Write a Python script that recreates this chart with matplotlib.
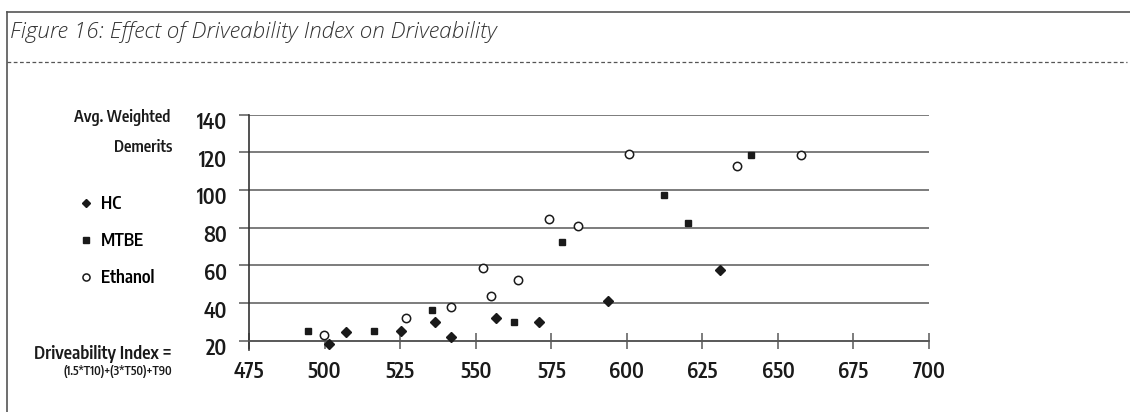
import matplotlib
matplotlib.use('Agg')
import matplotlib.pyplot as plt
from matplotlib import font_manager
from matplotlib.font_manager import FontProperties
from matplotlib.lines import Line2D
from matplotlib.transforms import ScaledTranslation

# 数据
hc_x = [501.4, 507.1, 525.4, 536.7, 541.7, 556.8, 571.0, 593.9, 630.9]
hc_y = [18.6, 24.6, 25.5, 30.1, 22.1, 32.0, 30.2, 41.2, 57.4]
mtbe_x = [494.5, 516.4, 535.6, 562.7, 578.7, 612.4, 620.3, 641.0]
mtbe_y = [25.3, 25.3, 36.2, 30.0, 72.2, 97.1, 82.3, 118.8]
eth_x = [499.8, 527.1, 541.7, 552.4, 555.2, 564.0, 574.1, 583.7, 600.8, 636.5, 657.8]
eth_y = [23.2, 32.4, 38.2, 58.8, 43.8, 52.3, 84.6, 80.7, 119.2, 112.6, 118.5]
x_ticks = [475, 500, 525, 550, 575, 600, 625, 650, 675, 700]
y_ticks = [20, 40, 60, 80, 100, 120, 140]
series_names = ['HC', 'MTBE', 'Ethanol']

W, H = 1130, 412

# 字体选择: 优先找窄体字体 (偏粗一点)
ttf = font_manager.fontManager.ttflist
names = {f.name for f in ttf}
narrow_faces = [f for f in ttf
                if f.style == 'normal'
                and ('Narrow' in f.name or 'Condensed' in f.name
                     or f.stretch in ('condensed', 'semi-condensed', 'extra-condensed'))]


def _wkey(f):
    try:
        w = int(f.weight)
    except (TypeError, ValueError):
        w = 400
    return (abs(w - 560), 'Sans' not in f.name)


narrow_faces.sort(key=_wkey)
if narrow_faces:
    fp_path = narrow_faces[0].fname
    base_size = 15
else:
    fp_path = font_manager.findfont(FontProperties(family='Roboto', weight=500))
    base_size = 12


def nfont(size):
    return FontProperties(fname=fp_path, size=size)


title_font = 'Open Sans' if 'Open Sans' in names else 'DejaVu Sans'


def fx(x):
    return x / W


def fy(y):
    return 1 - y / H


fig = plt.figure(figsize=(W / 100, H / 100), dpi=100)

# 外框和标题
border = '#555555'
fig.add_artist(Line2D([fx(7), fx(7)], [fy(12), 0], color=border, lw=1.2))
fig.add_artist(Line2D([fx(7), 1], [fy(12), fy(12)], color=border, lw=1.2))
fig.add_artist(Line2D([fx(7), fx(1127)], [fy(61.5), fy(61.5)], color=border,
                      lw=0.9, dashes=(3, 2)))
fig.text(fx(10), fy(38), 'Figure 16: Effect of Driveability Index on Driveability',
         family=title_font, style='italic', weight=300, fontsize=16.2, color='#333333',
         ha='left', va='baseline')

# 坐标轴
ax = fig.add_axes([fx(249), fy(350.4), fx(929) - fx(249), fy(114.5) - fy(350.4)])
ax.set_xlim(475, 700)
ax.set_ylim(15, 140)
ax.set_xticks(x_ticks)
ax.set_yticks(y_ticks)
ax.yaxis.grid(True, color='#666666', lw=1.2)
ax.set_axisbelow(True)
for s in ['top', 'right']:
    ax.spines[s].set_visible(False)
ax.spines['left'].set_color('#333333')
ax.spines['left'].set_linewidth(1.2)
ax.spines['bottom'].set_position(('data', 20))
ax.spines['bottom'].set_color('#555555')
ax.spines['bottom'].set_linewidth(1.2)
ax.tick_params(axis='x', direction='inout', length=11, width=1.2, color='#666666', pad=9)
ax.tick_params(axis='y', direction='out', length=7.2, width=1.2, color='#666666', pad=8.6)
shift = ScaledTranslation(0, -6 / 100, fig.dpi_scale_trans)
for lab in ax.get_xticklabels():
    lab.set_fontproperties(nfont(base_size))
    lab.set_color('#1a1a1a')
for lab in ax.get_yticklabels():
    lab.set_fontproperties(nfont(base_size))
    lab.set_color('#1a1a1a')
    lab.set_transform(lab.get_transform() + shift)

mk = dict(ls='none', clip_on=False, zorder=3)
ax.plot(hc_x, hc_y, marker='D', ms=5, color='#1a1a1a', label=series_names[0], **mk)
ax.plot(mtbe_x, mtbe_y, marker='s', ms=5, color='#1a1a1a', label=series_names[1], **mk)
ax.plot(eth_x, eth_y, marker='o', ms=6, mfc='white', mec='#1a1a1a', mew=1.1,
        label=series_names[2], **mk)

# 图例
fig.legend(*ax.get_legend_handles_labels(), loc='upper left',
           bbox_to_anchor=(fx(78), fy(195)), frameon=False, prop=nfont(base_size - 2.5),
           handlelength=0.9, handletextpad=0.4, labelspacing=1.1, markerscale=0.85,
           borderpad=0, borderaxespad=0)

# 轴标签
lbl = dict(ha='right', va='center', color='#1a1a1a')
fig.text(fx(170), fy(118), 'Avg. Weighted', fontproperties=nfont(base_size - 3.5), **lbl)
fig.text(fx(172), fy(147), 'Demerits', fontproperties=nfont(base_size - 3.5), **lbl)
fig.text(fx(172), fy(354), 'Driveability Index =', fontproperties=nfont(base_size - 2.3), **lbl)
fig.text(fx(172), fy(371), '(1.5*T10)+(3*T50)+T90', fontproperties=nfont(base_size - 6.7), **lbl)

fig.savefig('out.png', dpi=100)
